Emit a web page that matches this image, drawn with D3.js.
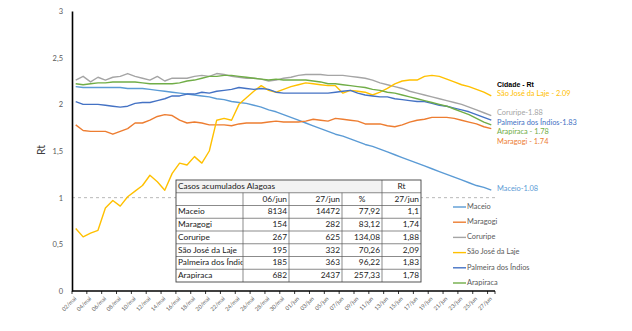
<!DOCTYPE html>
<html>
<head>
<meta charset="utf-8">
<script src="https://cdn.jsdelivr.net/npm/d3@7"></script>
<style>
  html, body { margin: 0; padding: 0; background: #fff; }
  svg { display: block; font-family: Lato, "Open Sans", "Liberation Sans", sans-serif; }
</style>
</head>
<body>
<svg id="chart" width="632" height="331"></svg>
<script>
// Categories: daily dates, 02/mai to 27/jun
const dates = [
  "02/mai","03/mai","04/mai","05/mai","06/mai","07/mai","08/mai","09/mai","10/mai","11/mai",
  "12/mai","13/mai","14/mai","15/mai","16/mai","17/mai","18/mai","19/mai","20/mai","21/mai",
  "22/mai","23/mai","24/mai","25/mai","26/mai","27/mai","28/mai","29/mai","30/mai","31/mai",
  "01/jun","02/jun","03/jun","04/jun","05/jun","06/jun","07/jun","08/jun","09/jun","10/jun",
  "11/jun","12/jun","13/jun","14/jun","15/jun","16/jun","17/jun","18/jun","19/jun","20/jun",
  "21/jun","22/jun","23/jun","24/jun","25/jun","26/jun","27/jun"
];

// Rt per city
const maceio = [
  2.19,2.18,2.18,2.18,2.18,2.18,2.18,2.17,2.17,2.17,
  2.16,2.15,2.14,2.13,2.12,2.11,2.10,2.09,2.08,2.06,
  2.05,2.03,2.02,2.01,1.99,1.97,1.94,1.92,1.89,1.86,
  1.83,1.80,1.77,1.74,1.71,1.68,1.66,1.63,1.60,1.57,
  1.55,1.52,1.49,1.46,1.43,1.40,1.37,1.34,1.31,1.28,
  1.25,1.22,1.19,1.16,1.13,1.11,1.08
];
const maragogi = [
  1.78,1.72,1.71,1.71,1.71,1.68,1.71,1.74,1.80,1.80,
  1.83,1.87,1.89,1.88,1.83,1.80,1.81,1.80,1.78,1.78,
  1.78,1.77,1.79,1.80,1.80,1.80,1.81,1.82,1.81,1.81,
  1.81,1.82,1.84,1.83,1.82,1.85,1.84,1.83,1.82,1.79,
  1.79,1.79,1.77,1.76,1.78,1.81,1.83,1.84,1.86,1.86,
  1.86,1.85,1.83,1.81,1.79,1.76,1.74
];
const coruripe = [
  2.26,2.30,2.24,2.29,2.26,2.29,2.30,2.33,2.30,2.28,
  2.26,2.30,2.25,2.28,2.28,2.28,2.30,2.31,2.30,2.33,
  2.32,2.30,2.29,2.28,2.28,2.27,2.25,2.26,2.28,2.29,
  2.31,2.32,2.32,2.32,2.31,2.31,2.31,2.30,2.29,2.28,
  2.26,2.23,2.21,2.19,2.17,2.14,2.12,2.10,2.08,2.06,
  2.04,2.02,2.00,1.97,1.94,1.91,1.88
];
const saoJose = [
  0.67,0.58,0.62,0.65,0.89,0.97,0.91,1.01,1.07,1.13,
  1.24,1.17,1.08,1.26,1.37,1.35,1.44,1.37,1.50,1.83,
  1.85,1.83,2.00,2.07,2.14,2.20,2.15,2.13,2.16,2.19,
  2.21,2.23,2.22,2.21,2.20,2.20,2.12,2.15,2.14,2.13,
  2.10,2.13,2.17,2.22,2.25,2.26,2.26,2.30,2.31,2.30,
  2.27,2.24,2.21,2.19,2.16,2.13,2.09
];
const palmeira = [
  2.03,2.00,2.00,2.00,1.99,1.98,1.97,1.98,2.01,2.02,
  2.02,2.04,2.06,2.09,2.09,2.11,2.11,2.13,2.12,2.14,
  2.15,2.16,2.18,2.17,2.16,2.17,2.16,2.13,2.12,2.12,
  2.12,2.12,2.12,2.12,2.12,2.13,2.14,2.15,2.12,2.10,
  2.09,2.08,2.08,2.06,2.05,2.04,2.03,2.03,2.01,1.99,
  1.98,1.96,1.94,1.92,1.89,1.86,1.83
];
const arapiraca = [
  2.22,2.21,2.22,2.23,2.23,2.24,2.24,2.24,2.24,2.23,
  2.22,2.22,2.22,2.22,2.23,2.25,2.26,2.28,2.30,2.30,
  2.31,2.31,2.30,2.29,2.28,2.27,2.26,2.27,2.26,2.26,
  2.26,2.26,2.25,2.24,2.22,2.22,2.21,2.20,2.19,2.18,
  2.16,2.15,2.13,2.12,2.10,2.08,2.06,2.04,2.02,2.00,
  1.98,1.95,1.92,1.89,1.85,1.81,1.78
];

const cityNames = ["Maceio","Maragogi","Coruripe","São José da Laje","Palmeira dos Índios","Arapiraca"];
const cityColors = ["#5B9BD5","#ED7D31","#A5A5A5","#FFC000","#4472C4","#70AD47"];
const cityValues = [maceio, maragogi, coruripe, saoJose, palmeira, arapiraca];

const yTicks = [0, 0.5, 1, 1.5, 2, 2.5, 3];
const xTickLabels = dates.filter((d, i) => i % 2 === 0);

// Accumulated cases table
const tableTitle = "Casos acumulados Alagoas";
const tableCols = ["", "06/jun", "27/jun", "%", "27/jun"];
const cases0606 = ["8134","154","267","195","185","682"];
const cases2706 = ["14472","282","625","332","363","2437"];
const casesPct = ["77,92","83,12","134,08","70,26","96,22","257,33"];
const rtTable = ["1,1","1,74","1,88","2,09","1,83","1,78"];

const svg = d3.select("#chart");

const x = d3.scaleBand().domain(dates).range([72, 495]).padding(0);
const y = d3.scaleLinear().domain([0, 3]).range([291, 11]);
const cx = d => x(d) + x.bandwidth() / 2;

// Reference line at Rt = 1
svg.append("line")
  .attr("x1", 72).attr("x2", 495)
  .attr("y1", y(1)).attr("y2", y(1))
  .attr("stroke", "#a6a6a6").attr("stroke-width", 0.8)
  .attr("stroke-dasharray", "3,3");

// Y axis
const yAxis = svg.append("g").attr("transform", "translate(72,0)")
  .call(d3.axisLeft(y).tickValues(yTicks).tickSize(0).tickPadding(9)
    .tickFormat(d => String(d).replace(".", ",")));
yAxis.select(".domain").attr("stroke", "#000").attr("stroke-width", 1.6);
yAxis.selectAll("text").attr("fill", "#595959").style("font-size", "7.5px")
  .style("font-family", "Lato, sans-serif");

svg.append("text")
  .attr("transform", "translate(45,150) rotate(-90)")
  .attr("text-anchor", "middle")
  .attr("fill", "#404040")
  .style("font-size", "10.5px")
  .text("Rt");

// Series lines
const line = d3.line().x((v, i) => cx(dates[i])).y(v => y(v));
cityValues.forEach((vals, k) => {
  svg.append("path")
    .datum(vals)
    .attr("d", line)
    .attr("fill", "none")
    .attr("stroke", cityColors[k])
    .attr("stroke-width", 1.4)
    .attr("stroke-linejoin", "round");
});

// X axis
const xAxisG = svg.append("g").attr("transform", "translate(0,291)");
xAxisG.append("line").attr("x1", 72).attr("x2", 495).attr("y1", 0).attr("y2", 0)
  .attr("stroke", "#000").attr("stroke-width", 1.6);
const tickPos = dates.filter((d, i) => i % 2 === 0).map(d => x(d)).concat([x.range()[1]]);
xAxisG.selectAll("line.tick").data(tickPos).enter().append("line")
  .attr("class", "tick")
  .attr("x1", d => d).attr("x2", d => d).attr("y1", 0).attr("y2", 3)
  .attr("stroke", "#000").attr("stroke-width", 0.8);
xAxisG.selectAll("text").data(xTickLabels).enter().append("text")
  .attr("transform", d => `translate(${cx(d) + 1},8) rotate(-45)`)
  .attr("text-anchor", "end")
  .attr("fill", "#595959")
  .style("font-size", "5.6px")
  .text(d => d);

// End-of-line labels
const lastIdx = dates.length - 1;
const labelX = 497;
svg.append("text").attr("x", labelX).attr("y", 85)
  .attr("dominant-baseline", "middle")
  .attr("fill", "#000").style("font-weight", "bold").style("font-size", "7px")
  .style("font-family", "'Liberation Sans Narrow', 'Liberation Sans', sans-serif")
  .text("Cidade - Rt");
const endLabels = [
  { k: 3, text: v => `São José da Laje - ${v.toFixed(2)}`, dy: -2 },
  { k: 2, text: v => `Coruripe-${v.toFixed(2)}`, dy: -2.5 },
  { k: 4, text: v => `Palmeira dos Índios-${v.toFixed(2)}`, dy: 3 },
  { k: 5, text: v => `Arapiraca - ${v.toFixed(2)}`, dy: 7 },
  { k: 1, text: v => `Maragogi - ${v.toFixed(2)}`, dy: 13.4 },
  { k: 0, text: v => `Maceio-${v.toFixed(2)}`, dy: -1 }
];
endLabels.forEach(l => {
  const v = cityValues[l.k][lastIdx];
  svg.append("text")
    .attr("x", labelX).attr("y", y(v) + l.dy)
    .attr("dominant-baseline", "middle")
    .attr("fill", cityColors[l.k])
    .style("font-size", "7.4px")
    .text(l.text(v));
});

// Legend
const legend = svg.append("g");
cityNames.forEach((name, k) => {
  const ly = 207 + k * 15.2;
  legend.append("line").attr("x1", 453).attr("x2", 466).attr("y1", ly).attr("y2", ly)
    .attr("stroke", cityColors[k]).attr("stroke-width", 1.4);
  legend.append("text").attr("x", 467).attr("y", ly)
    .attr("dominant-baseline", "middle")
    .attr("fill", "#595959").style("font-size", "7.4px")
    .text(name);
});

// Table
const colEdges = [176, 243, 289, 342, 382, 421];
const rowTop = 180, rowH = 12.75, nRows = 8;
const tbl = svg.append("g").style("font-size", "8.3px").attr("fill", "#1a1a1a");
tbl.append("rect").attr("x", colEdges[0]).attr("y", rowTop)
  .attr("width", colEdges[5] - colEdges[0]).attr("height", rowH * nRows)
  .attr("fill", "#fff");
tbl.append("rect").attr("x", colEdges[0]).attr("y", rowTop)
  .attr("width", colEdges[4] - colEdges[0]).attr("height", rowH)
  .attr("fill", "#f2f2f2");

// grid lines
for (let r = 1; r < nRows; r++) {
  tbl.append("line").attr("x1", colEdges[0]).attr("x2", colEdges[5])
    .attr("y1", rowTop + r * rowH).attr("y2", rowTop + r * rowH)
    .attr("stroke", "#595959").attr("stroke-width", 0.7);
}
for (let c = 1; c < 5; c++) {
  tbl.append("line").attr("x1", colEdges[c]).attr("x2", colEdges[c])
    .attr("y1", c === 4 ? rowTop : rowTop + rowH).attr("y2", rowTop + rowH * nRows)
    .attr("stroke", "#595959").attr("stroke-width", 0.7);
}
tbl.append("rect").attr("x", colEdges[0]).attr("y", rowTop)
  .attr("width", colEdges[5] - colEdges[0]).attr("height", rowH * nRows)
  .attr("fill", "none").attr("stroke", "#404040").attr("stroke-width", 0.9);

svg.append("clipPath").attr("id", "firstCol").append("rect")
  .attr("x", colEdges[0]).attr("y", rowTop).attr("width", colEdges[1] - colEdges[0] - 0.5)
  .attr("height", rowH * nRows);

const rowMid = r => rowTop + r * rowH + rowH / 2 + 0.5;
tbl.append("text").attr("x", colEdges[0] + 2).attr("y", rowMid(0))
  .attr("dominant-baseline", "middle").text(tableTitle);
tbl.append("text").attr("x", (colEdges[4] + colEdges[5]) / 2).attr("y", rowMid(0))
  .attr("dominant-baseline", "middle").attr("text-anchor", "middle").text("Rt");
tableCols.forEach((h, c) => {
  if (!h) return;
  const centered = h === "%";
  tbl.append("text")
    .attr("x", centered ? (colEdges[c] + colEdges[c + 1]) / 2 : colEdges[c + 1] - 2)
    .attr("y", rowMid(1))
    .attr("dominant-baseline", "middle")
    .attr("text-anchor", centered ? "middle" : "end")
    .text(h);
});
const tableCells = [cases0606, cases2706, casesPct, rtTable];
cityNames.forEach((name, r) => {
  tbl.append("text").attr("x", colEdges[0] + 2).attr("y", rowMid(r + 2))
    .attr("dominant-baseline", "middle").attr("clip-path", "url(#firstCol)").text(name);
  tableCells.forEach((col, c) => {
    tbl.append("text").attr("x", colEdges[c + 2] - 2).attr("y", rowMid(r + 2))
      .attr("dominant-baseline", "middle").attr("text-anchor", "end").text(col[r]);
  });
});
</script>
</body>
</html>
